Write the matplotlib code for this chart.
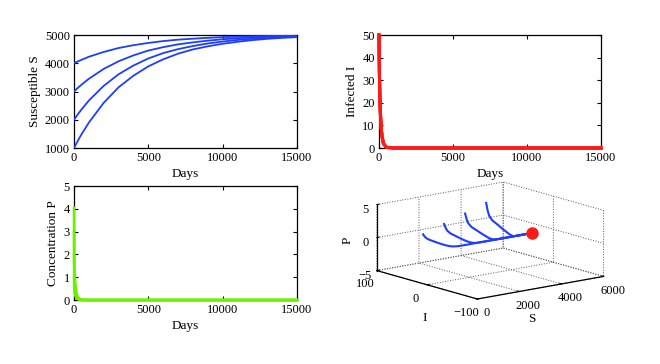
import matplotlib
matplotlib.use("Agg")
import matplotlib.pyplot as plt

plt.rcParams["font.family"] = ["Liberation Serif", "DejaVu Serif"]
plt.rcParams["font.size"] = 9

# time grid (days) shared by all series
days = [0, 5, 10, 20, 30, 50, 75, 100, 150, 200, 300, 500, 1000, 2000, 3000, 4000,
        5000, 6000, 7000, 8000, 9000, 10000, 11000, 12000, 13000, 14000, 15000]

# susceptible S for four initial values
s_1000 = [1000, 1005, 1010, 1020, 1031, 1051, 1076, 1101, 1151, 1200, 1296, 1481, 1900,
          2600, 3150, 3560, 3890, 4140, 4340, 4490, 4600, 4690, 4760, 4820, 4865, 4900, 4925]
s_2000 = [2000, 2004, 2008, 2015, 2023, 2038, 2057, 2076, 2113, 2150, 2222, 2361, 2680,
          3200, 3610, 3920, 4170, 4360, 4500, 4610, 4700, 4770, 4825, 4865, 4895, 4920, 4940]
s_3000 = [3000, 3003, 3005, 3010, 3015, 3025, 3038, 3051, 3076, 3100, 3148, 3240, 3450,
          3800, 4070, 4280, 4450, 4570, 4670, 4740, 4800, 4850, 4885, 4912, 4932, 4947, 4958]
s_4000 = [4000, 4001, 4003, 4005, 4008, 4013, 4019, 4025, 4038, 4050, 4074, 4120, 4230,
          4400, 4540, 4640, 4720, 4785, 4835, 4870, 4900, 4925, 4942, 4955, 4965, 4972, 4977]
s_curves = [s_1000, s_2000, s_3000, s_4000]

# infected I (same start for every run)
i_run = [50, 47, 44, 38, 33, 26, 19.5, 15, 9, 5.5, 2, 0.3, 0,
         0, 0, 0, 0, 0, 0, 0, 0, 0, 0, 0, 0, 0, 0]
i_curves = [i_run, i_run, i_run, i_run]

# concentration P for four initial values
p_1 = [1, 0.72, 0.55, 0.41, 0.36, 0.29, 0.21, 0.16, 0.095, 0.055, 0.02, 0.003, 0,
       0, 0, 0, 0, 0, 0, 0, 0, 0, 0, 0, 0, 0, 0]
p_2 = [2, 1.45, 1.1, 0.82, 0.72, 0.57, 0.42, 0.32, 0.19, 0.11, 0.04, 0.005, 0,
       0, 0, 0, 0, 0, 0, 0, 0, 0, 0, 0, 0, 0, 0]
p_3 = [3, 2.15, 1.65, 1.24, 1.08, 0.86, 0.64, 0.49, 0.28, 0.16, 0.06, 0.008, 0,
       0, 0, 0, 0, 0, 0, 0, 0, 0, 0, 0, 0, 0, 0]
p_4 = [4.05, 2.9, 2.2, 1.65, 1.45, 1.15, 0.85, 0.65, 0.38, 0.22, 0.08, 0.01, 0,
       0, 0, 0, 0, 0, 0, 0, 0, 0, 0, 0, 0, 0, 0]
p_curves = [p_1, p_2, p_3, p_4]

# equilibrium point
eq_s, eq_i, eq_p = 5000, 0, 0

day_ticks = [0, 5000, 10000, 15000]
blue = "#1f3dff"
red = "#ff1a1a"
green = "#6cf000"


def matlab_style(ax):
    ax.tick_params(direction="in", length=3, width=0.8, top=True, right=True,
                   labelsize=9, pad=3)
    for sp in ax.spines.values():
        sp.set_linewidth(0.9)
    ax.set_xlim(0, 15000)
    ax.set_xticks(day_ticks)
    ax.set_xlabel("Days", fontsize=9.5, labelpad=3)


fig = plt.figure(figsize=(6.6, 3.64), dpi=100)

ax1 = fig.add_axes([0.1121, 0.5934, 0.3379, 0.3104])
for s in s_curves:
    ax1.plot(days, s, color=blue, lw=1.3, zorder=3)
matlab_style(ax1)
ax1.set_ylim(1000, 5000)
ax1.set_yticks([1000, 2000, 3000, 4000, 5000])
ax1.set_ylabel("Susceptible S", fontsize=9.5, labelpad=3)

ax2 = fig.add_axes([0.5742, 0.5934, 0.3364, 0.3104])
for i in i_curves:
    ax2.plot(days, i, color=red, lw=2.2, zorder=3, clip_on=False)
matlab_style(ax2)
ax2.set_ylim(0, 50)
ax2.set_yticks([0, 10, 20, 30, 40, 50])
ax2.set_ylabel("Infected I", fontsize=9.5, labelpad=3)

ax3 = fig.add_axes([0.1121, 0.1758, 0.3379, 0.3132])
for p in p_curves:
    ax3.plot(days, p, color=green, lw=1.8, zorder=3, clip_on=False)
matlab_style(ax3)
ax3.set_ylim(0, 5)
ax3.set_yticks([0, 1, 2, 3, 4, 5])
ax3.set_ylabel("Concentration P", fontsize=9.5, labelpad=3)

ax4 = fig.add_axes([0.461, 0.043, 0.555, 0.577], projection="3d")
ax4.patch.set_alpha(0)
for s, i, p in zip(s_curves, i_curves, p_curves):
    ax4.plot(s, i, p, color=blue, lw=1.5)
ax4.plot([eq_s], [eq_i], [eq_p], "o", color=red, ms=8)
ax4.set_proj_type("ortho")
ax4.view_init(elev=13, azim=-128.5)
ax4.set_box_aspect((1, 1, 0.42), zoom=1.1)
ax4.set_xlim(0, 6000)
ax4.set_ylim(-100, 100)
ax4.set_zlim(-5, 5)
ax4.set_xticks([0, 2000, 4000, 6000])
ax4.set_yticks([-100, 0, 100])
ax4.set_zticks([-5, 0, 5])
ax4.tick_params(labelsize=9, pad=-1)
ax4.zaxis.set_tick_params(pad=-4)
for axis in (ax4.xaxis, ax4.yaxis, ax4.zaxis):
    axis.set_pane_color((1, 1, 1, 0))
    axis.line.set_color("black")
    axis.line.set_linewidth(0.9)
    axis._axinfo["grid"]["color"] = "#555555"
    axis._axinfo["grid"]["linestyle"] = ":"
    axis._axinfo["grid"]["linewidth"] = 0.7
    axis._axinfo["tick"]["inward_factor"] = 0.0
    axis._axinfo["tick"]["outward_factor"] = 0.2

# axis names of the 3D panel, placed like the original figure
fig.text(532 / 660, 1 - 319 / 364, "S", fontsize=9.5, ha="center", va="center")
fig.text(425 / 660, 1 - 318 / 364, "I", fontsize=9.5, ha="center", va="center")
fig.text(348 / 660, 1 - 240 / 364, "P", fontsize=9.5, ha="center", va="center",
         rotation=90)

fig.savefig("out.png", dpi=100)
